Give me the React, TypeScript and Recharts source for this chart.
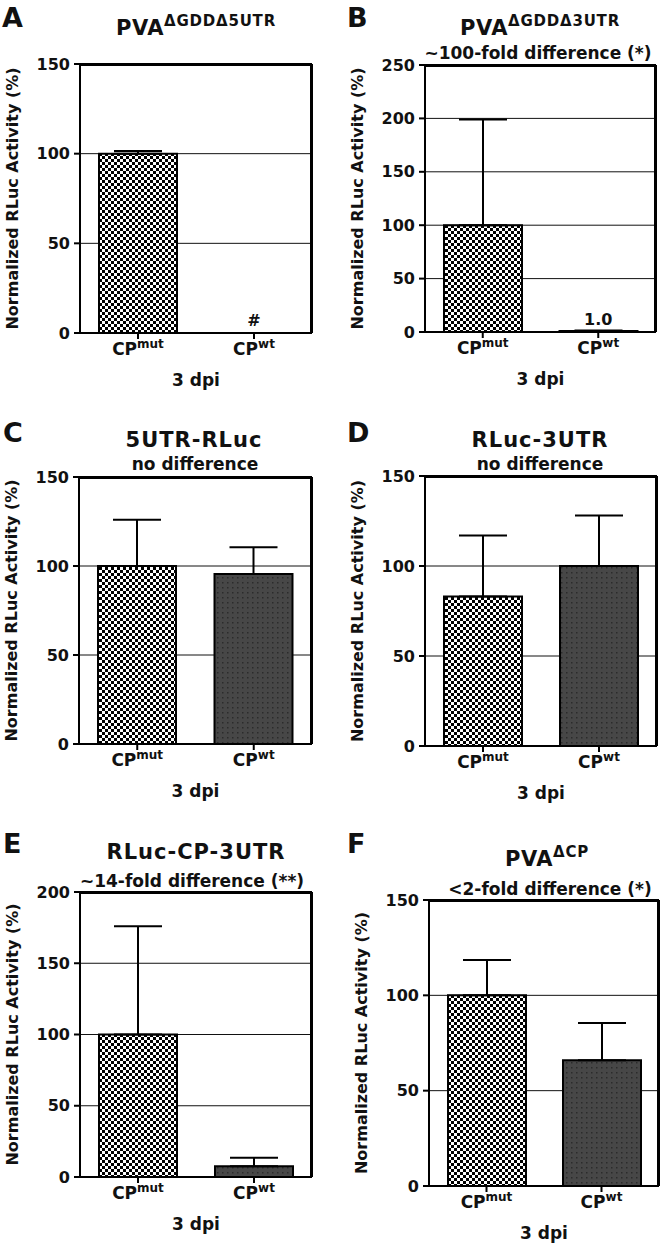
import React from 'react';
import {
  Bar,
  BarChart,
  CartesianGrid,
  Cell,
  ErrorBar,
  ReferenceLine,
  XAxis,
  YAxis,
} from 'recharts';

// categories (CP variant)
const categories = ['mut', 'wt'];

// mean normalized RLuc activity (%) and upper SEM per panel
const meanA = [100, 0];
const errA = [1.5, 0];
const noteA = ['', '#'];

const meanB = [100, 1.0];
const errB = [99, 0.4];
const noteB = ['', '1.0'];

const meanC = [100, 95.5];
const errC = [26, 15];

const meanD = [83, 100];
const errD = [34, 28];

const meanE = [100, 7.5];
const errE = [76, 6];

const meanF = [100, 66];
const errF = [18.5, 19.5];

const ticks150 = [0, 50, 100, 150];
const ticks250 = [0, 50, 100, 150, 200, 250];
const ticks200 = [0, 50, 100, 150, 200];

const FONT = '"DejaVu Sans", Verdana, sans-serif';

interface PanelDef {
  letter: string;
  mean: number[];
  err: number[];
  notes: string[];
  max: number;
  ticks: number[];
  x: number;
  y: number;
  h: number;
  yw: number;
  top: number;
  right: number;
}

const panels: PanelDef[] = [
  { letter: 'A', mean: meanA, err: errA, notes: noteA, max: 150, ticks: ticks150, x: 0, y: 0, h: 393, yw: 80, top: 64, right: 22 },
  { letter: 'B', mean: meanB, err: errB, notes: noteB, max: 250, ticks: ticks250, x: 334, y: 0, h: 392, yw: 91, top: 65, right: 12 },
  { letter: 'C', mean: meanC, err: errC, notes: ['', ''], max: 150, ticks: ticks150, x: 0, y: 420, h: 384, yw: 79, top: 57, right: 22 },
  { letter: 'D', mean: meanD, err: errD, notes: ['', ''], max: 150, ticks: ticks150, x: 334, y: 420, h: 386, yw: 91, top: 56, right: 11 },
  { letter: 'E', mean: meanE, err: errE, notes: ['', ''], max: 200, ticks: ticks200, x: 0, y: 830, h: 407, yw: 80, top: 62, right: 22 },
  { letter: 'F', mean: meanF, err: errF, notes: ['', ''], max: 150, ticks: ticks150, x: 334, y: 830, h: 416, yw: 95, top: 70, right: 9 },
];

function CatTick(props: any) {
  const { x, y, payload, index, notes } = props;
  const note = notes[index];
  return (
    <g>
      {note ? (
        <text x={x} y={y - 15} textAnchor="middle" fontFamily={FONT} fontWeight="bold" fontSize={16} fill="#111">
          {note}
        </text>
      ) : null}
      <text x={x} y={y} dy={14} textAnchor="middle" fontFamily={FONT} fontWeight="bold" fontSize={17} fill="#111">
        <tspan>CP</tspan>
        <tspan dy={-7} fontSize={12}>{payload.value}</tspan>
      </text>
    </g>
  );
}

function XLabel(props: any) {
  const vb = props.viewBox;
  return (
    <text x={vb.x + vb.width / 2} y={vb.y + 53} textAnchor="middle" fontFamily={FONT} fontWeight="bold" fontSize={17} fill="#111">
      3 dpi
    </text>
  );
}

function YLabel(props: any) {
  const vb = props.viewBox;
  const cx = vb.x + vb.width - 68;
  const cy = vb.y + vb.height / 2;
  return (
    <text
      x={cx}
      y={cy}
      transform={`rotate(-90 ${cx} ${cy})`}
      textAnchor="middle"
      dominantBaseline="central"
      fontFamily={FONT}
      fontWeight="bold"
      fontSize={16}
      fill="#111"
    >
      Normalized RLuc Activity (%)
    </text>
  );
}

function Panel({ p }: { p: PanelDef }) {
  const data = categories.map((c, i) => ({
    cat: c,
    value: p.mean[i],
    err: [0, p.err[i]],
  }));
  const line = { stroke: '#000', strokeWidth: 2 };
  const ck = `checker${p.letter}`;
  const dk = `dots${p.letter}`;
  return (
    <div style={{ position: 'absolute', left: p.x, top: p.y }}>
      <BarChart
        width={334}
        height={p.h}
        data={data}
        margin={{ top: p.top, right: p.right - 1, bottom: 0, left: 0 }}
      >
        <defs>
          <pattern id={ck} width={6} height={6} patternUnits="userSpaceOnUse">
            <rect width={6} height={6} fill="#fff" />
            <rect x={0} y={0} width={3} height={3} fill="#000" />
            <rect x={3} y={3} width={3} height={3} fill="#000" />
          </pattern>
          <pattern id={dk} width={5} height={5} patternUnits="userSpaceOnUse">
            <rect width={5} height={5} fill="#474747" />
            <rect x={2} y={2} width={1.5} height={1.5} fill="#2b2b2b" />
          </pattern>
        </defs>
        <CartesianGrid vertical={false} stroke="#111" strokeWidth={1} />
        {/* top and right sides of the plot box, just inside the edges */}
        <CartesianGrid
          horizontalCoordinatesGenerator={({ offset }: any) => [offset.top + 1]}
          verticalCoordinatesGenerator={({ offset }: any) => [offset.left + offset.width - 1]}
          stroke="#000"
          strokeWidth={2}
        />
        <XAxis
          dataKey="cat"
          interval={0}
          height={60}
          tickSize={6}
          tickMargin={2}
          axisLine={line}
          tickLine={line}
          tick={(tp: any) => <CatTick {...tp} notes={p.notes} />}
          label={<XLabel />}
        />
        <YAxis
          domain={[0, p.max]}
          ticks={p.ticks}
          interval={0}
          width={p.yw}
          tickSize={6}
          tickMargin={4}
          axisLine={line}
          tickLine={line}
          tick={{ fontFamily: FONT, fontWeight: 'bold', fontSize: 16, fill: '#111' }}
          label={<YLabel />}
        />
        <YAxis
          yAxisId="frame"
          orientation="right"
          domain={[0, p.max]}
          width={1}
          tick={false}
          tickLine={false}
          axisLine={line}
        />
        <ReferenceLine y={p.max} stroke="#000" strokeWidth={2} />
        <Bar dataKey="value" barSize={78} stroke="#000" strokeWidth={2} isAnimationActive={false}>
          {data.map((d) => (
            <Cell key={d.cat} fill={d.cat === 'mut' ? `url(#${ck})` : `url(#${dk})`} />
          ))}
          <ErrorBar dataKey="err" width={24} stroke="#000" strokeWidth={2} />
        </Bar>
      </BarChart>
    </div>
  );
}

const titleStyle = { fontFamily: FONT, fontWeight: 'bold', fill: '#111' } as const;

export default function App() {
  return (
    <div style={{ position: 'absolute', left: 0, top: 0, width: 668, height: 1248, background: '#fff' }}>
      {panels.map((p) => (
        <Panel key={p.letter} p={p} />
      ))}
      <svg width={668} height={1248} style={{ position: 'absolute', left: 0, top: 0, pointerEvents: 'none' }}>
        {/* panel letters */}
        <text x={2} y={27} fontSize={27} {...titleStyle}>A</text>
        <text x={347} y={27} fontSize={27} {...titleStyle}>B</text>
        <text x={3} y={442} fontSize={27} {...titleStyle}>C</text>
        <text x={347} y={442} fontSize={27} {...titleStyle}>D</text>
        <text x={3} y={853} fontSize={27} {...titleStyle}>E</text>
        <text x={347} y={853} fontSize={27} {...titleStyle}>F</text>
        {/* titles */}
        <text x={196} y={35} textAnchor="middle" fontSize={21} letterSpacing={0.5} {...titleStyle}>
          PVA<tspan dy={-9} fontSize={15} letterSpacing={0.8}>ΔGDDΔ5UTR</tspan>
        </text>
        <text x={540} y={35} textAnchor="middle" fontSize={21} letterSpacing={0.5} {...titleStyle}>
          PVA<tspan dy={-9} fontSize={15} letterSpacing={0.8}>ΔGDDΔ3UTR</tspan>
        </text>
        <text x={538} y={59} textAnchor="middle" fontSize={17} {...titleStyle}>~100-fold difference (*)</text>
        <text x={194} y={447} textAnchor="middle" fontSize={21} letterSpacing={1} {...titleStyle}>5UTR-RLuc</text>
        <text x={195} y={470} textAnchor="middle" fontSize={17} {...titleStyle}>no difference</text>
        <text x={540} y={447} textAnchor="middle" fontSize={21} letterSpacing={1} {...titleStyle}>RLuc-3UTR</text>
        <text x={540} y={470} textAnchor="middle" fontSize={17} {...titleStyle}>no difference</text>
        <text x={196} y={859} textAnchor="middle" fontSize={21} letterSpacing={1} {...titleStyle}>RLuc-CP-3UTR</text>
        <text x={192} y={887} textAnchor="middle" fontSize={17} {...titleStyle}>~14-fold difference (**)</text>
        <text x={547} y={866} textAnchor="middle" fontSize={21} letterSpacing={0.5} {...titleStyle}>
          PVA<tspan dy={-9} fontSize={15} letterSpacing={0.8}>ΔCP</tspan>
        </text>
        <text x={550} y={895} textAnchor="middle" fontSize={17} {...titleStyle}>&lt;2-fold difference (*)</text>
      </svg>
    </div>
  );
}
